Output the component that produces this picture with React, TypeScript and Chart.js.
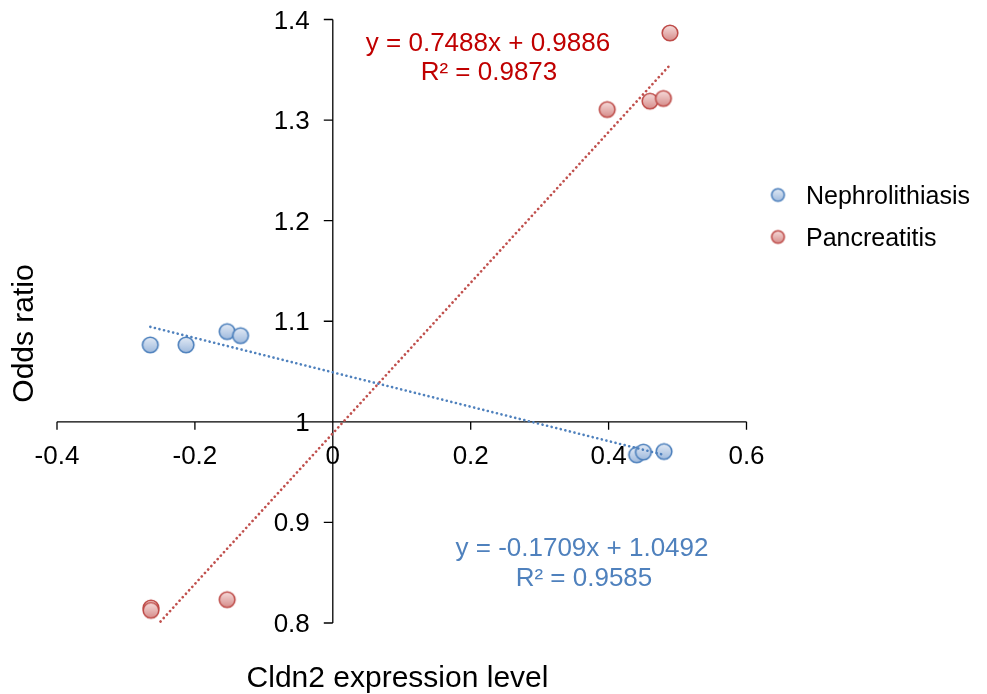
import React, { useEffect, useRef } from 'react';
import { Chart, registerables } from 'chart.js';

Chart.register(...registerables);

// ---- data ----
const nephX = [-0.2647, -0.2128, -0.1532, -0.1338, 0.4407, 0.4505, 0.4804];
const nephY = [1.0765, 1.0765, 1.0897, 1.0857, 0.9672, 0.9699, 0.9705];
const pancX = [-0.2637, -0.2637, -0.1532, 0.398, 0.46, 0.4795, 0.489];
const pancY = [0.815, 0.8126, 0.8232, 1.3105, 1.3188, 1.3215, 1.3866];

const nephSlope = -0.1709;
const nephIntercept = 1.0492;
const nephR2 = '0.9585';
const pancSlope = 0.7488;
const pancIntercept = 0.9886;
const pancR2 = '0.9873';

const xTickValues = [-0.4, -0.2, 0, 0.2, 0.4, 0.6];
const xTickLabels = ['-0.4', '-0.2', '0', '0.2', '0.4', '0.6'];
const yTickValues = [0.8, 0.9, 1.0, 1.1, 1.2, 1.3, 1.4];
const yTickLabels = ['0.8', '0.9', '1', '1.1', '1.2', '1.3', '1.4'];

const seriesNames = ['Nephrolithiasis', 'Pancreatitis'];

const FONT = '"Liberation Sans", Arial, sans-serif';

function makeMarker(top: string, bottom: string, stroke: string, r: number) {
  const size = Math.ceil(2 * r + 4);
  const c = document.createElement('canvas');
  c.width = size;
  c.height = size;
  const g = c.getContext('2d')!;
  const cx = size / 2;
  const grad = g.createLinearGradient(0, cx - r, 0, cx + r);
  grad.addColorStop(0, top);
  grad.addColorStop(1, bottom);
  g.beginPath();
  g.arc(cx, cx, r, 0, Math.PI * 2);
  g.fillStyle = grad;
  g.fill();
  g.lineWidth = 1.6;
  g.strokeStyle = stroke;
  g.stroke();
  return c;
}

function fitLine(xs: number[], slope: number, intercept: number) {
  const lo = Math.min(...xs);
  const hi = Math.max(...xs);
  return [
    { x: lo, y: slope * lo + intercept },
    { x: hi, y: slope * hi + intercept },
  ];
}

export default function App() {
  const ref = useRef<HTMLCanvasElement>(null);

  useEffect(() => {
    document.body.style.margin = '0';
    const canvas = ref.current!;
    const blueMarker = makeMarker('#e2eaf5', '#9fbadd', '#4a7ebb', 7.8);
    const redMarker = makeMarker('#f6dcdb', '#d68c8a', '#be4b48', 7.8);
    const blueLeg = makeMarker('#e2eaf5', '#9fbadd', '#4a7ebb', 6.3);
    const redLeg = makeMarker('#f6dcdb', '#d68c8a', '#be4b48', 6.3);

    const overlay = {
      id: 'overlay',
      beforeDatasetsDraw(chart: any) {
        const ctx = chart.ctx as CanvasRenderingContext2D;
        const xs = chart.scales.x;
        const ys = chart.scales.y;
        const x0 = xs.getPixelForValue(0);
        const y1 = ys.getPixelForValue(1);
        ctx.save();
        ctx.strokeStyle = '#000';
        ctx.lineWidth = 1.3;
        ctx.beginPath();
        ctx.moveTo(x0, ys.getPixelForValue(yTickValues[yTickValues.length - 1]));
        ctx.lineTo(x0, ys.getPixelForValue(yTickValues[0]));
        ctx.moveTo(xs.getPixelForValue(xTickValues[0]), y1);
        ctx.lineTo(xs.getPixelForValue(xTickValues[xTickValues.length - 1]), y1);
        yTickValues.forEach((v) => {
          const p = ys.getPixelForValue(v);
          ctx.moveTo(x0 - 9, p);
          ctx.lineTo(x0, p);
        });
        xTickValues.forEach((v) => {
          const p = xs.getPixelForValue(v);
          ctx.moveTo(p, y1);
          ctx.lineTo(p, y1 + 8);
        });
        ctx.stroke();

        ctx.fillStyle = '#000';
        ctx.font = `26px ${FONT}`;
        ctx.textBaseline = 'alphabetic';
        ctx.textAlign = 'right';
        yTickValues.forEach((v, i) => {
          const p = ys.getPixelForValue(v);
          ctx.fillText(yTickLabels[i], x0 - 23, p + 9);
        });
        ctx.textAlign = 'center';
        xTickValues.forEach((v, i) => {
          const p = xs.getPixelForValue(v);
          ctx.fillText(xTickLabels[i], p, y1 + 42);
        });
        ctx.restore();
      },
      afterDraw(chart: any) {
        const ctx = chart.ctx as CanvasRenderingContext2D;
        ctx.save();
        // axis titles
        ctx.fillStyle = '#000';
        ctx.font = `30px ${FONT}`;
        ctx.textAlign = 'center';
        ctx.textBaseline = 'alphabetic';
        ctx.fillText('Cldn2 expression level', 397.5, 687);
        ctx.save();
        ctx.translate(33, 333.5);
        ctx.rotate(-Math.PI / 2);
        ctx.fillText('Odds ratio', 0, 0);
        ctx.restore();

        // legend
        ctx.font = `25px ${FONT}`;
        ctx.textAlign = 'left';
        ctx.drawImage(blueLeg, 778 - blueLeg.width / 2, 195 - blueLeg.height / 2);
        ctx.drawImage(redLeg, 778 - redLeg.width / 2, 237 - redLeg.height / 2);
        ctx.fillText(seriesNames[0], 806, 203.5);
        ctx.fillText(seriesNames[1], 806, 245.5);

        // trendline equations
        ctx.font = `26px ${FONT}`;
        ctx.textAlign = 'center';
        ctx.fillStyle = '#c00000';
        ctx.fillText(`y = ${pancSlope}x + ${pancIntercept}`, 488, 51);
        ctx.fillText(`R² = ${pancR2}`, 489, 80);
        ctx.fillStyle = '#4f81bd';
        ctx.fillText(`y = ${nephSlope}x + ${nephIntercept}`, 582, 556);
        ctx.fillText(`R² = ${nephR2}`, 584, 586);
        ctx.restore();
      },
    };

    const chart = new Chart(canvas, {
      type: 'scatter',
      data: {
        datasets: [
          {
            label: seriesNames[0],
            data: nephX.map((x, i) => ({ x, y: nephY[i] })),
            pointStyle: blueMarker as any,
            pointRadius: 7.8,
            order: 1,
          },
          {
            label: seriesNames[1],
            data: pancX.map((x, i) => ({ x, y: pancY[i] })),
            pointStyle: redMarker as any,
            pointRadius: 7.8,
            order: 1,
          },
          {
            type: 'line',
            label: 'Nephrolithiasis trend',
            data: fitLine(nephX, nephSlope, nephIntercept),
            borderColor: '#4f81bd',
            borderWidth: 2.6,
            borderDash: [0.1, 4.6],
            borderCapStyle: 'round',
            pointRadius: 0,
            showLine: true,
            fill: false,
            order: 0,
          } as any,
          {
            type: 'line',
            label: 'Pancreatitis trend',
            data: fitLine(pancX, pancSlope, pancIntercept),
            borderColor: '#c0504d',
            borderWidth: 2.6,
            borderDash: [0.1, 4.6],
            borderCapStyle: 'round',
            pointRadius: 0,
            showLine: true,
            fill: false,
            order: 0,
          } as any,
        ],
      },
      options: {
        animation: false,
        responsive: false,
        devicePixelRatio: 1,
        layout: { padding: { left: 57, right: 240.5, top: 19.5, bottom: 71 } },
        plugins: { legend: { display: false }, tooltip: { enabled: false } },
        scales: {
          x: { type: 'linear', min: -0.4, max: 0.6, display: false },
          y: { type: 'linear', min: 0.8, max: 1.4, display: false },
        },
      },
      plugins: [overlay],
    });
    return () => chart.destroy();
  }, []);

  return (
    <div style={{ width: 987, height: 694, background: '#fff' }}>
      <canvas ref={ref} width={987} height={694} style={{ display: 'block' }} />
    </div>
  );
}
